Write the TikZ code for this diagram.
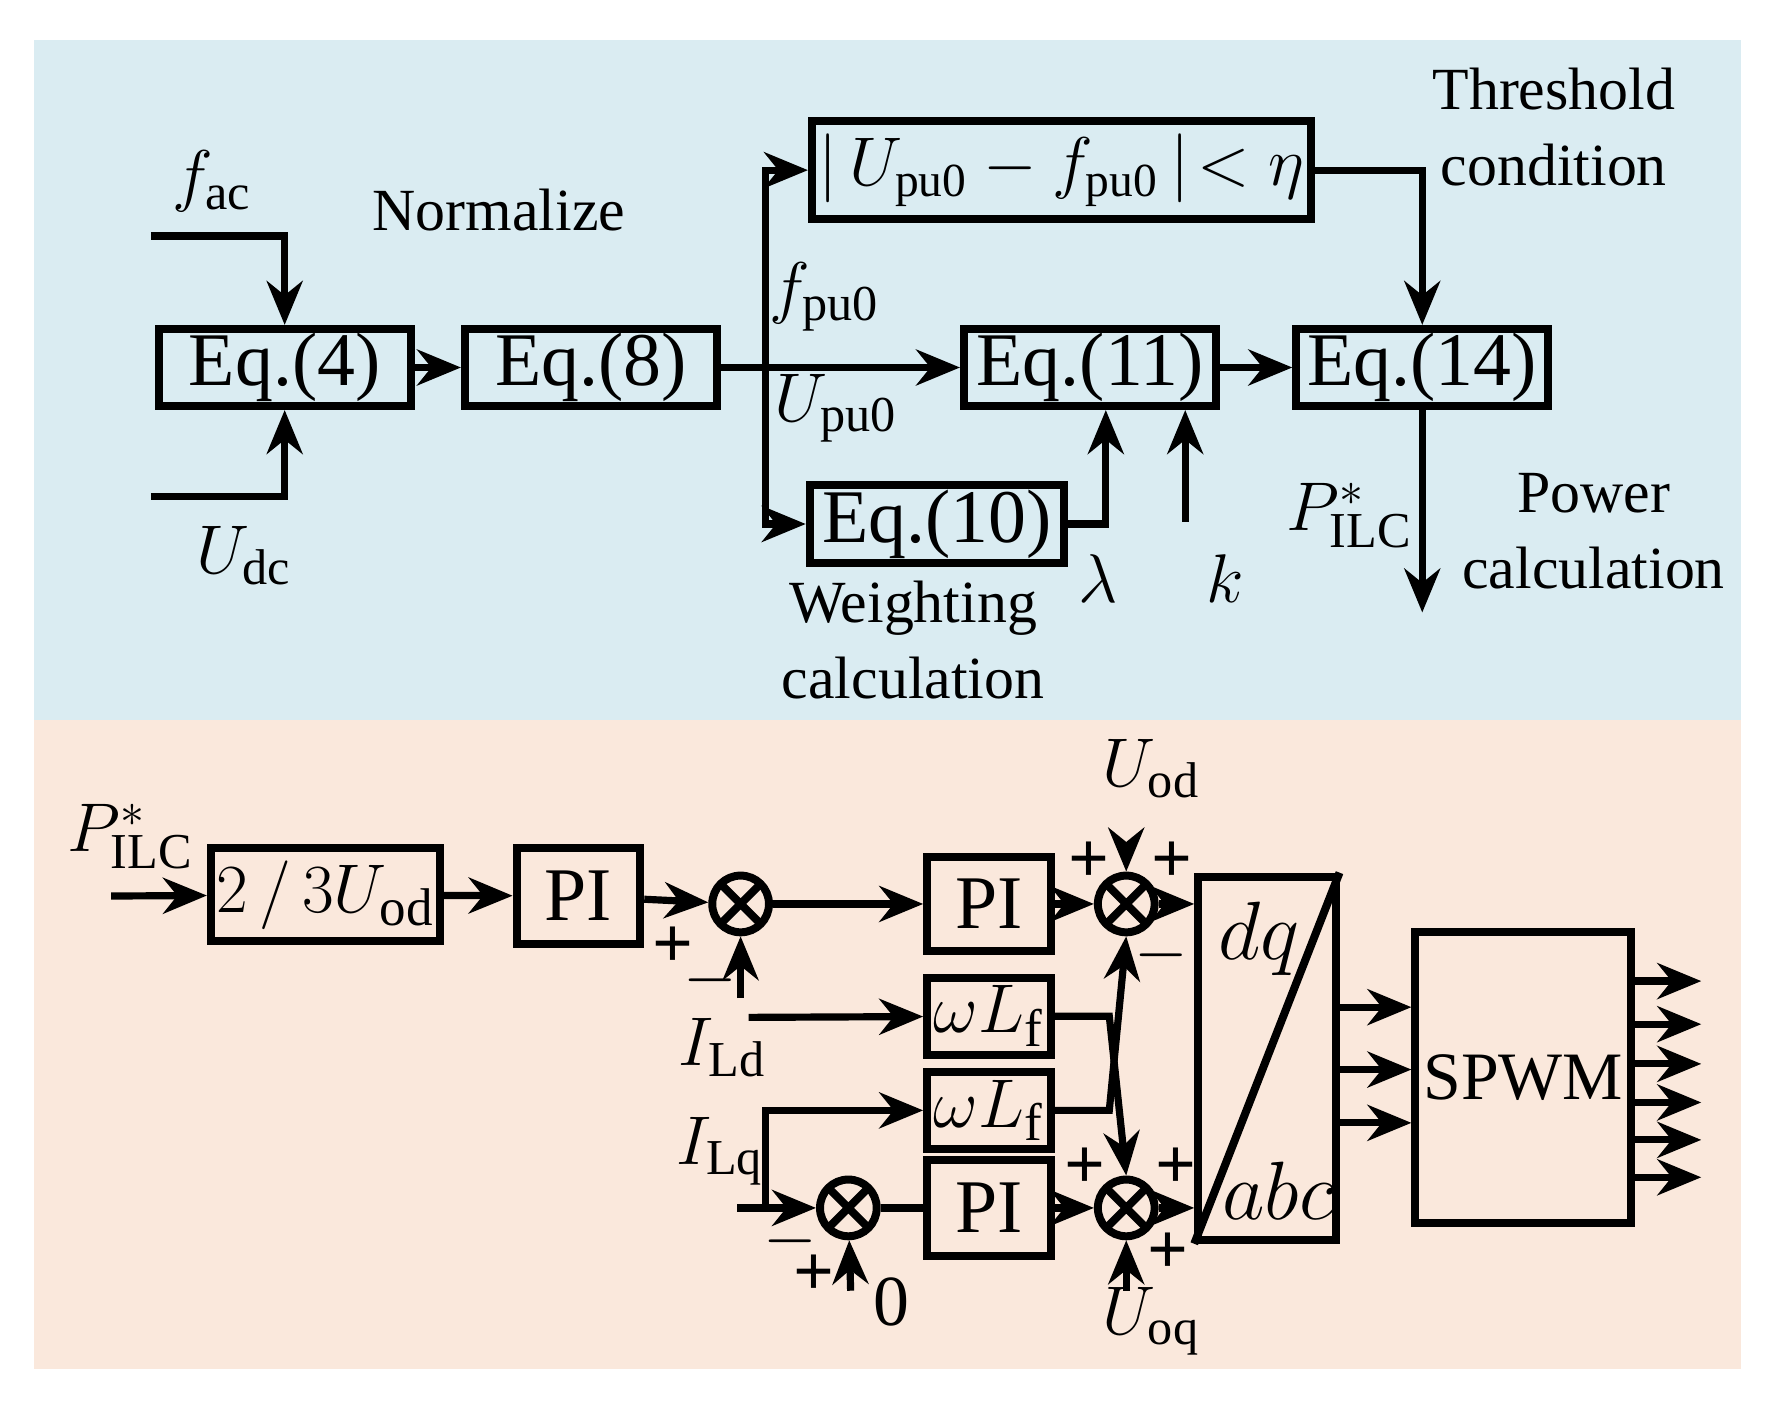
\documentclass[tikz,border=0pt]{standalone}
\usepackage{fontspec}
\setmainfont{Liberation Serif}
\usetikzlibrary{arrows.meta,calc}
\definecolor{topbg}{RGB}{218,236,242}
\definecolor{botbg}{RGB}{250,232,220}
\tikzset{
  blk/.style={draw,line width=2pt,minimum height=0.68cm,inner sep=0pt,font=\fontsize{19}{22}\selectfont},
  sumnode/.style={draw,circle,line width=2pt,minimum size=0.5cm,inner sep=0pt,
    path picture={\draw[line width=2pt] (path picture bounding box.north west)--(path picture bounding box.south east)
      (path picture bounding box.north east)--(path picture bounding box.south west);}},
  lbl/.style={font=\fontsize{18}{22}\selectfont,inner sep=1pt},
  txt/.style={font=\fontsize{15}{19}\selectfont,align=center,inner sep=1pt},
  sgn/.style={font=\fontsize{18}{18}\selectfont\bfseries,inner sep=0pt},
  wire/.style={line width=1.8pt},
  arr/.style={line width=1.8pt,-{Stealth[length=11pt,width=9pt]}}
}
\begin{document}
\begin{tikzpicture}[x=0.01cm,y=-0.01cm]
  \useasboundingbox (0,0) rectangle (1565,1235);
  \fill[topbg] (30,35) rectangle (1535,635);
  \fill[botbg] (30,635) rectangle (1535,1207);
  % top part
  \node[blk,minimum width=2.22cm] (eqf) at (251,324) {Eq.(4)};
  \node[blk,minimum width=2.22cm] (eqe) at (521,324) {Eq.(8)};
  \node[blk,minimum width=2.22cm] (eqk) at (961,324) {Eq.(11)};
  \node[blk,minimum width=2.22cm] (eqn) at (1254,324) {Eq.(14)};
  \node[blk,minimum width=2.24cm] (eqj) at (826,462) {Eq.(10)};
  \node[blk,minimum width=4.4cm,minimum height=0.86cm,font=\fontsize{17}{20}\selectfont] (thr) at (936,150)
    {$|\,U_{\mathrm{pu0}}-f_{\mathrm{pu0}}\,|\!<\eta$};
  \node[lbl] (fac) at (187,160) {$f_{\mathrm{ac}}$};
  \node[lbl] (udc) at (215,490) {$U_{\mathrm{dc}}$};
  \node[txt] (norm) at (440,185) {Normalize};
  \node[lbl] (fpu) at (727,262) {$f_{\mathrm{pu0}}$};
  \node[lbl] (upu) at (737,360) {$U_{\mathrm{pu0}}$};
  \node[lbl] (lam) at (968,510) {$\lambda$};
  \node[lbl] (kk) at (1080,510) {$k$};
  \node[lbl] (pil) at (1190,455) {$P^{*}_{\mathrm{ILC}}$};
  \node[txt] (thrt) at (1370,112) {Threshold\\condition};
  \node[txt] (powt) at (1405,468) {Power\\calculation};
  \node[txt] (wgt) at (805,564) {Weighting\\calculation};
  \coordinate (fin) at (133,208);
  \coordinate (uin) at (133,438);
  \coordinate (br) at (675,324);
  \coordinate (kin) at (1045,460);
  \coordinate (pout) at (1245,540);
  \draw[arr] (fin) -| (eqf.north);
  \draw[arr] (uin) -| (eqf.south);
  \draw[arr] (eqf) -- (eqe);
  \draw[arr] (eqe) -- (eqk);
  \draw[arr] (br) |- (thr.west);
  \draw[arr] (br) |- (eqj.west);
  \draw[arr] (eqj.east) -| ($(eqk.south)+(14,0)$);
  \draw[arr] (kin) -- (kin|-eqk.south);
  \draw[arr] (eqk) -- (eqn);
  \draw[arr] (thr.east) -| (eqn.north);
  \draw[arr] (eqn.south) -- (eqn.south|-pout);
  % bottom part
  \node[lbl] (pref) at (115,738) {$P^{*}_{\mathrm{ILC}}$};
  \node[blk,minimum width=2.02cm,minimum height=0.82cm] (gain) at (287,789) {$2\,/\,3U_{\mathrm{od}}$};
  \node[blk,minimum width=1.09cm,minimum height=0.84cm] (pia) at (510,790) {PI};
  \node[sumnode] (sa) at (653,797) {};
  \node[blk,minimum width=1.09cm,minimum height=0.83cm] (pib) at (872,797) {PI};
  \node[sumnode] (sb) at (993,797) {};
  \node[blk,minimum width=1.09cm] (wla) at (872,896) {$\omega L_{\mathrm{f}}$};
  \node[blk,minimum width=1.09cm] (wlb) at (872,979) {$\omega L_{\mathrm{f}}$};
  \node[blk,minimum width=1.09cm,minimum height=0.84cm] (pic) at (872,1065) {PI};
  \node[sumnode] (sc) at (748,1065) {};
  \node[sumnode] (sd) at (993,1065) {};
  \node[blk,minimum width=1.21cm,minimum height=3.2cm] (dqa) at (1117,933) {};
  \draw[line width=2pt] (dqa.south west) -- (dqa.north east);
  \node[lbl,font=\fontsize{21}{24}\selectfont] (dqt) at (1110,828) {$dq$};
  \node[lbl,font=\fontsize{21}{24}\selectfont] (abct) at (1127,1050) {$abc$};
  \node[blk,minimum width=1.9cm,minimum height=2.56cm,font=\fontsize{17}{20}\selectfont] (spwm) at (1343,950) {SPWM};
  \node[lbl] (ild) at (637,924) {$I_{\mathrm{Ld}}$};
  \node[lbl] (ilq) at (635,1015) {$I_{\mathrm{Lq}}$};
  \node[lbl] (zero) at (786,1148) {0};
  \node[lbl] (uod) at (1015,678) {$U_{\mathrm{od}}$};
  \node[lbl] (uoq) at (1015,1165) {$U_{\mathrm{oq}}$};
  \coordinate (pin) at (98,790);
  \coordinate (idin) at (660,897);
  \coordinate (idup) at (653,880);
  \coordinate (iqin) at (650,1065);
  \coordinate (iqbr) at (675,1065);
  \coordinate (zin) at (750,1138);
  \coordinate (uodin) at (993,745);
  \coordinate (uoqin) at (993,1138);
  \draw[arr] (pin) -- (gain);
  \draw[arr] (gain) -- (pia);
  \draw[arr] (pia) -- (sa);
  \draw[arr] (sa) -- (pib);
  \draw[arr] (pib) -- (sb);
  \draw[arr] (idup) -- (sa);
  \draw[arr] (idin) -- (wla);
  \draw[arr] (iqin) -- (sc);
  \draw[arr] (iqbr) |- (wlb.west);
  \draw[arr] (zin) -- (sc);
  \draw[wire] (sc) -- (pic);
  \draw[arr] (pic) -- (sd);
  \draw[arr] (wla.east) -- ++(48,0) -- (sd.north);
  \draw[arr] (wlb.east) -- ++(48,0) -- (sb.south);
  \draw[arr] (uodin) -- (sb);
  \draw[arr] (uoqin) -- (sd);
  \draw[arr] (sb) -- (sb-|dqa.west);
  \draw[arr] (sd) -- (sd-|dqa.west);
  \foreach \yy in {888,943,990}
    \draw[arr] (dqa.east|-0,\yy) -- (spwm.west|-0,\yy);
  \foreach \yy in {865,903,938,972,1005,1038}
    \draw[arr] (spwm.east|-0,\yy) -- (1500,\yy);
  % signs
  \node[sgn] at (593,835) {+};
  \node[sgn] at (626,864) {$-$};
  \node[sgn] at (960,760) {+};
  \node[sgn] at (1033,760) {+};
  \node[sgn] at (1024,842) {$-$};
  \node[sgn] at (697,1094) {$-$};
  \node[sgn] at (718,1124) {+};
  \node[sgn] at (957,1030) {+};
  \node[sgn] at (1037,1030) {+};
  \node[sgn] at (1030,1105) {+};
\end{tikzpicture}
\end{document}
